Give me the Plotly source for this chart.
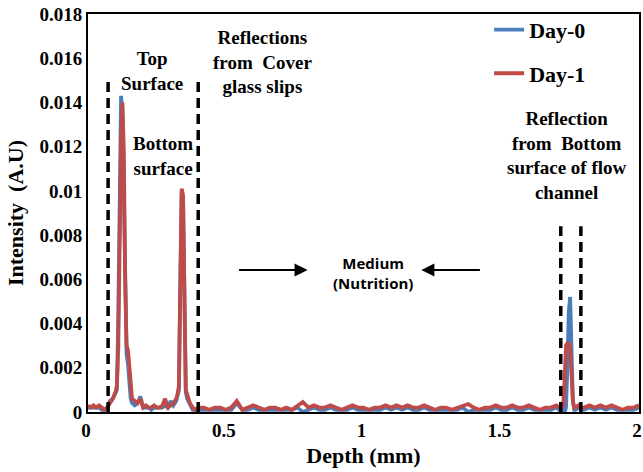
import plotly.graph_objects as go

# ---------------- data ----------------
depth = [
    0.00, 0.01, 0.02, 0.03, 0.04, 0.05, 0.06, 0.07, 0.08, 0.09, 0.10,
    0.105, 0.11, 0.115, 0.12, 0.125, 0.13, 0.135, 0.14, 0.145, 0.15, 0.155,
    0.16, 0.17, 0.18, 0.19, 0.20, 0.21, 0.22, 0.23, 0.24, 0.25, 0.26, 0.27,
    0.28, 0.29, 0.30, 0.31, 0.32, 0.325, 0.33, 0.335, 0.34, 0.345, 0.35,
    0.355, 0.36, 0.37, 0.38, 0.39, 0.40,
    0.42, 0.44, 0.46, 0.48, 0.50, 0.52, 0.54, 0.56, 0.58, 0.60, 0.62, 0.64,
    0.66, 0.68, 0.70, 0.72, 0.74, 0.76, 0.78, 0.80, 0.82, 0.84, 0.86, 0.88,
    0.90, 0.92, 0.94, 0.96, 0.98, 1.00, 1.02, 1.04, 1.06, 1.08, 1.10, 1.12,
    1.14, 1.16, 1.18, 1.20, 1.22, 1.24, 1.26, 1.28, 1.30, 1.32, 1.34, 1.36,
    1.38, 1.40, 1.42, 1.44, 1.46, 1.48, 1.50, 1.52, 1.54, 1.56, 1.58, 1.60,
    1.62, 1.64, 1.66, 1.68, 1.70,
    1.71, 1.72, 1.725, 1.73, 1.735, 1.74, 1.745, 1.75, 1.755, 1.76, 1.765,
    1.77, 1.78, 1.79, 1.80,
    1.82, 1.84, 1.86, 1.88, 1.90, 1.92, 1.94, 1.96, 1.98, 2.00,
]

day0 = [
    0.0002, 0.0002, 0.0002, 0.0002, 0.0002, 0.0001, 0.0001, 0.0002, 0.0005, 0.0006, 0.0009,
    0.0010, 0.0045, 0.0110, 0.0143, 0.0136, 0.0100, 0.0050, 0.0026, 0.0022, 0.0012, 0.0006,
    0.0004, 0.0003, 0.0004, 0.0007, 0.0002, 0.0002, 0.0002, 0.0001, 0.0002, 0.0002, 0.0002, 0.0002,
    0.0003, 0.0002, 0.0005, 0.0003, 0.0005, 0.0007, 0.0010, 0.0058, 0.0099, 0.0096, 0.0038,
    0.0009, 0.0006, 0.0003, 0.0001, 0.0001, 0.0001,
    0.0001, 0.0001, 0.0001, 0.0001, 0.0001, 0.0001, 0.0004, 0.0001, 0.0001, 0.0002, 0.0001, 0.0001,
    0.0001, 0.0001, 0.0001, 0.0001, 0.0001, 0.0002, 0.0000, 0.0001, 0.0002, 0.0001, 0.0001, 0.0002,
    0.0001, 0.0001, 0.0001, 0.0002, 0.0001, 0.0001, 0.0001, 0.0001, 0.0001, 0.0002, 0.0001, 0.0002,
    0.0001, 0.0002, 0.0001, 0.0001, 0.0002, 0.0001, 0.0001, 0.0001, 0.0001, 0.0001, 0.0001, 0.0002,
    0.0000, 0.0001, 0.0001, 0.0001, 0.0001, 0.0002, 0.0001, 0.0001, 0.0002, 0.0001, 0.0001, 0.0002,
    0.0001, 0.0001, 0.0001, 0.0001, 0.0002,
    0.0001, 0.0001, 0.0001, 0.0000, 0.0002, 0.0020, 0.0045, 0.0052, 0.0030, 0.0005, 0.0001,
    0.0001, 0.0002, 0.0001, 0.0001,
    0.0002, 0.0001, 0.0002, 0.0001, 0.0002, 0.0001, 0.0001, 0.0001, 0.0001, 0.0002,
]

day1 = [
    0.0003, 0.0002, 0.0003, 0.0002, 0.0003, 0.0002, 0.0001, 0.0002, 0.0004, 0.0006, 0.0009,
    0.0012, 0.0030, 0.0090, 0.0122, 0.0140, 0.0118, 0.0060, 0.0030, 0.0028, 0.0020, 0.0009,
    0.0006, 0.0005, 0.0004, 0.0006, 0.0002, 0.0003, 0.0002, 0.0002, 0.0003, 0.0002, 0.0002, 0.0003,
    0.0006, 0.0002, 0.0003, 0.0004, 0.0006, 0.0008, 0.0012, 0.0060, 0.0101, 0.0098, 0.0040,
    0.0010, 0.0008, 0.0004, 0.0002, 0.0001, 0.0002,
    0.0002, 0.0001, 0.0002, 0.0002, 0.0001, 0.0002, 0.0005, 0.0001, 0.0002, 0.0003, 0.0002, 0.0001,
    0.0002, 0.0002, 0.0001, 0.0002, 0.0001, 0.0003, 0.00045, 0.0002, 0.0003, 0.0002, 0.0002, 0.0003,
    0.0002, 0.0001, 0.0002, 0.0003, 0.0002, 0.0002, 0.0001, 0.0002, 0.0002, 0.0003, 0.0002, 0.0003,
    0.0002, 0.0003, 0.0002, 0.0002, 0.0003, 0.0002, 0.0001, 0.0002, 0.0002, 0.0001, 0.0002, 0.0003,
    0.00036, 0.0002, 0.0001, 0.0002, 0.0002, 0.0003, 0.0002, 0.0002, 0.0003, 0.0002, 0.0002, 0.0003,
    0.0002, 0.0001, 0.0002, 0.0002, 0.0003,
    0.0002, 0.0002, 0.0003, 0.0015, 0.0030, 0.0031, 0.0031, 0.0029, 0.0015, 0.0005, 0.0002,
    0.0002, 0.0003, 0.0002, 0.0002,
    0.0003, 0.0002, 0.0003, 0.0002, 0.0003, 0.0002, 0.0001, 0.0002, 0.0002, 0.0003,
]

series_names = ["Day-0", "Day-1"]
series_colors = ["#4a7ebb", "#be4b48"]

y_ticks = [0, 0.002, 0.004, 0.006, 0.008, 0.01, 0.012, 0.014, 0.016, 0.018]
y_tick_labels = ["0", "0.002", "0.004", "0.006", "0.008", "0.01", "0.012", "0.014", "0.016", "0.018"]
x_ticks = [0, 0.5, 1, 1.5, 2]
x_tick_labels = ["0", "0.5", "1", "1.5", "2"]

# dashed guide lines (depth, top intensity)
guide_lines = [(0.073, 0.0152), (0.40, 0.0152), (1.716, 0.0084), (1.789, 0.0084)]

SERIF = "Liberation Serif, Times New Roman, serif"

fig = go.Figure()
for name, ys, col in zip(series_names, [day0, day1], series_colors):
    fig.add_trace(go.Scatter(
        x=depth, y=ys, mode="lines", name=name, legendgroup=name,
        line=dict(color=col, width=3.8),
    ))

for gx, gtop in guide_lines:
    fig.add_shape(type="line", x0=gx, x1=gx, y0=0, y1=gtop, xref="x", yref="y",
                  line=dict(color="black", width=3.5, dash="10px,6px"), layer="above")

ann_font = dict(family=SERIF, size=19, color="black")
texts = [
    ("<b>Top</b><br><b>Surface</b>", 0.232, 0.0154),
    ("<b>Bottom</b><br><b>surface</b>", 0.272, 0.01156),
    ("<b>Reflections</b><br><b>from  Cover</b><br><b>glass slips</b>", 0.634, 0.01583),
    ("<b>Reflection</b><br><b>from  Bottom</b><br><b>surface of flow</b><br><b>channel</b>", 1.739, 0.0116),
]
for t, x, y in texts:
    fig.add_annotation(text=t, x=x, y=y, xref="x", yref="y", showarrow=False,
                       font=ann_font, align="center")

fig.add_annotation(text="<b>Medium</b><br><b>(Nutrition)</b>", x=1.035, y=0.00629,
                   xref="x", yref="y", showarrow=False, align="center",
                   font=dict(family="Open Sans", size=15, color="black"))
# arrows
fig.add_annotation(x=0.797, y=0.00642, ax=0.543, ay=0.00642, xref="x", yref="y",
                   axref="x", ayref="y", text="", showarrow=True, arrowhead=2,
                   arrowsize=1.3, arrowwidth=2, arrowcolor="black")
fig.add_annotation(x=1.21, y=0.00642, ax=1.428, ay=0.00642, xref="x", yref="y",
                   axref="x", ayref="y", text="", showarrow=True, arrowhead=2,
                   arrowsize=1.3, arrowwidth=2, arrowcolor="black")

fig.update_layout(
    width=643, height=472,
    margin=dict(l=88, r=4, t=14, b=60),
    paper_bgcolor="white", plot_bgcolor="white",
    showlegend=True,
    legend=dict(x=0.728, y=1.013, xanchor="left", yanchor="top",
                bgcolor="rgba(0,0,0,0)", traceorder="grouped", tracegroupgap=12,
                font=dict(family=SERIF, size=22, color="black", weight="bold")),
    xaxis=dict(range=[0, 2], tickvals=x_ticks, ticktext=x_tick_labels,
               showgrid=False, zeroline=False, showline=True, linecolor="black",
               linewidth=2, mirror=True, ticks="", ticklabeloverflow="allow",
               automargin=False, ticklabelshift=-2,
               tickfont=dict(family=SERIF, size=19, color="black", weight="bold"),
               title=dict(text="<b>Depth (mm)</b>", standoff=8,
                          font=dict(family=SERIF, size=22, color="black"))),
    yaxis=dict(range=[0, 0.018], tickvals=y_ticks, ticktext=y_tick_labels,
               showgrid=False, zeroline=False, showline=True, linecolor="black",
               linewidth=2, mirror=True, ticks="", automargin=False,
               tickfont=dict(family=SERIF, size=19, color="black", weight="bold"),
               title=dict(text="<b>Intensity  (A.U)</b>", standoff=10,
                          font=dict(family=SERIF, size=22, color="black"))),
)

fig.write_html("out.html")
